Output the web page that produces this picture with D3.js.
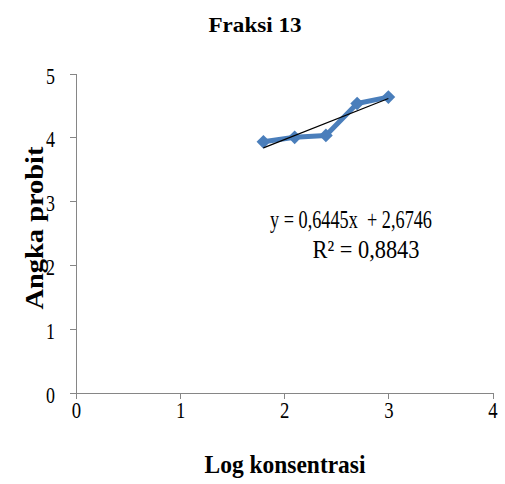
<!DOCTYPE html>
<html>
<head>
<title>Fraksi 13</title>
<style>
body { margin: 0; background: #fff; }
text { font-family: "Liberation Serif", "Times New Roman", serif; fill: #000; }
.axis path, .axis line { stroke: #868686; shape-rendering: crispEdges; }
</style>
</head>
<body>
<div id="chart"></div>
<script src="https://cdn.jsdelivr.net/npm/d3@7"></script>
<script>
    var dimensions = { width: 505, height: 484 };
    var plot = { left: 76, right: 492.5, top: 73.5, bottom: 392.5 };

    // data
    var logKonsentrasi = [1.8, 2.1, 2.4, 2.7, 3.0];
    var angkaProbit = [3.93, 4.00, 4.03, 4.53, 4.63];
    var xTicks = [0, 1, 2, 3, 4];
    var yTicks = [0, 1, 2, 3, 4, 5];
    var slope = 0.6445, intercept = 2.6746;
    var eqLines = ["y = 0,6445x  + 2,6746", "R\u00b2 = 0,8843"];

    var svg = d3.select("#chart").append("svg")
        .attr("width", dimensions.width)
        .attr("height", dimensions.height);

    var x = d3.scaleLinear().domain([0, 4]).range([plot.left, plot.right]);
    var y = d3.scaleLinear().domain([0, 5]).range([plot.bottom, plot.top]);

    var xaxis = svg.append("g")
        .attr("class", "axis")
        .attr("transform", "translate(0," + plot.bottom + ")")
        .call(d3.axisBottom(x).tickValues(xTicks).tickFormat(d3.format("d"))
            .tickSizeInner(6).tickSizeOuter(0).tickPadding(4));
    xaxis.selectAll("text")
        .attr("font-size", 24)
        .attr("transform", "scale(0.78,1)")
        .attr("y", 10)
        .attr("dy", "0.66em");

    var yaxis = svg.append("g")
        .attr("class", "axis")
        .attr("transform", "translate(" + plot.left + ",0)")
        .call(d3.axisLeft(y).tickValues(yTicks).tickFormat(d3.format("d"))
            .tickSizeInner(6).tickSizeOuter(0).tickPadding(15));
    yaxis.selectAll("text")
        .attr("font-size", 23)
        .attr("dy", "0.42em")
        .attr("transform", "scale(0.78,1)")
        .attr("x", -21 / 0.78);
    svg.selectAll(".axis .domain").attr("fill", "none");

    // series
    var pts = logKonsentrasi.map(function(d, i) { return [d, angkaProbit[i]]; });
    svg.append("path")
        .attr("d", d3.line().x(function(d) { return x(d[0]); }).y(function(d) { return y(d[1]); })(pts))
        .attr("fill", "none")
        .attr("stroke", "#4A7EBB")
        .attr("stroke-width", 5)
        .attr("stroke-linejoin", "round");
    svg.selectAll("path.mark")
        .data(pts)
        .enter().append("path")
        .attr("class", "mark")
        .attr("d", d3.symbol().type(d3.symbolDiamond2).size(120))
        .attr("transform", function(d) { return "translate(" + x(d[0]) + "," + y(d[1]) + ")"; })
        .attr("fill", "#4A7EBB");

    // linear trendline
    var x0 = d3.min(logKonsentrasi), x1 = d3.max(logKonsentrasi);
    svg.append("line")
        .attr("x1", x(x0)).attr("y1", y(slope * x0 + intercept))
        .attr("x2", x(x1)).attr("y2", y(slope * x1 + intercept))
        .attr("stroke", "#000")
        .attr("stroke-width", 1.3);

    // equation label
    svg.append("text")
        .attr("x", 351).attr("y", 228)
        .attr("text-anchor", "middle")
        .attr("textLength", 162).attr("lengthAdjust", "spacingAndGlyphs")
        .style("font-size", "25px")
        .style("white-space", "pre")
        .text(eqLines[0]);
    svg.append("text")
        .attr("x", 366).attr("y", 258)
        .attr("text-anchor", "middle")
        .attr("textLength", 107).attr("lengthAdjust", "spacingAndGlyphs")
        .style("font-size", "25px")
        .text(eqLines[1]);

    // titles
    svg.append("text")
        .attr("x", 255).attr("y", 32)
        .attr("text-anchor", "middle")
        .attr("textLength", 93).attr("lengthAdjust", "spacingAndGlyphs")
        .style("font-size", "22px").style("font-weight", "bold")
        .text("Fraksi 13");
    svg.append("text")
        .attr("x", 285).attr("y", 473)
        .attr("text-anchor", "middle")
        .attr("textLength", 161).attr("lengthAdjust", "spacingAndGlyphs")
        .style("font-size", "25px").style("font-weight", "bold")
        .text("Log konsentrasi");
    svg.append("text")
        .attr("transform", "translate(43,228) rotate(-90)")
        .attr("text-anchor", "middle")
        .attr("textLength", 163).attr("lengthAdjust", "spacingAndGlyphs")
        .style("font-size", "25px").style("font-weight", "bold")
        .text("Angka probit");
</script>
</body>
</html>
